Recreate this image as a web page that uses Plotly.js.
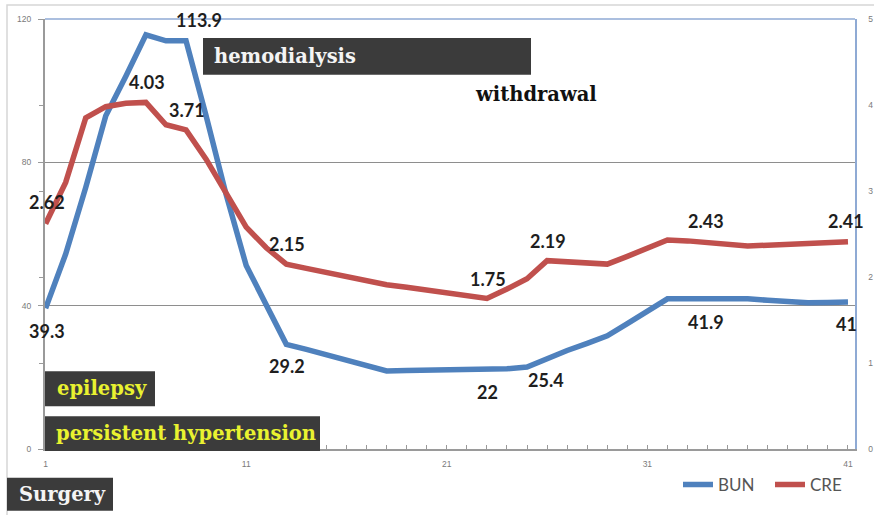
<!DOCTYPE html>
<html>
<head>
<meta charset="utf-8">
<script src="https://cdn.plot.ly/plotly-3.0.1.min.js"></script>
<style>
  html, body { margin: 0; padding: 0; background: #fff; }
  #chart { width: 874px; height: 515px; }
</style>
</head>
<body>
<div id="chart"></div>
<script>
// ---- data ----
const days = [];
for (let d = 1; d <= 41; d++) days.push(d);

const bun = [39.3, 54.4, 73, 93, 104, 115.6, 113.9, 113.9, 93, 71,
             51.2, 40, 29.2, 27.8, 26.3, 24.8, 23.3, 21.8, 21.9, 22.0,
             22.0, 22.0, 22.0, 22.4, 22.9, 25.4, 27.5, 29.5, 31.6, 35,
             38.5, 41.9, 41.9, 41.9, 41.9, 41.9, 41.5, 41.0, 40.8, 40.9, 41.0];

const cre = [2.62, 3.10, 3.85, 3.98, 4.02, 4.03, 3.77, 3.71, 3.37, 2.98,
             2.58, 2.34, 2.15, 2.10, 2.05, 2.00, 1.96, 1.91, 1.88, 1.85,
             1.81, 1.78, 1.75, 1.86, 1.98, 2.19, 2.18, 2.17, 2.15, 2.24,
             2.34, 2.43, 2.42, 2.40, 2.38, 2.36, 2.37, 2.38, 2.40, 2.41, 2.41];

const bunLabels = ["39.3", "113.9", "29.2", "22", "25.4", "41.9", "41"];
const creLabels = ["2.62", "4.03", "3.71", "2.15", "1.75", "2.19", "2.43", "2.41"];
const xTickVals = [1, 11, 21, 31, 41];
const leftTicks = [0, 40, 80, 120];
const rightTicks = [0, 1, 2, 3, 4, 5];
const events = ["hemodialysis", "withdrawal", "epilepsy", "persistent hypertension", "Surgery"];

// ---- layout helpers (pixel -> paper) ----
const L = 45, R = 855, T = 19, B = 451;
const px = v => (v - L) / (R - L);
const py = v => (B - v) / (B - T);

// label pixel centres
const bunLabelPos = [[47, 332], [199, 20], [287, 368], [487, 394], [546, 382], [706, 323], [846, 325]];
const creLabelPos = [[47, 203], [147, 82], [187, 110], [287, 245], [488, 280], [548, 242], [706, 222], [846, 222]];

const labelFont = { family: "Lato, 'Liberation Sans', sans-serif", size: 18, color: "#1e1e1e", weight: 700 };
const annotations = [];
bunLabels.forEach((t, i) => annotations.push({
  xref: "paper", yref: "paper", x: px(bunLabelPos[i][0]), y: py(bunLabelPos[i][1]),
  text: "<b>" + t + "</b>", showarrow: false, xanchor: "center", yanchor: "middle", font: labelFont
}));
creLabels.forEach((t, i) => annotations.push({
  xref: "paper", yref: "paper", x: px(creLabelPos[i][0]), y: py(creLabelPos[i][1]),
  text: "<b>" + t + "</b>", showarrow: false, xanchor: "center", yanchor: "middle", font: labelFont
}));

// event boxes: [x0,y0,x1,y1] pixels, text start x, text colour
const boxes = [
  { box: [203, 38, 531, 75], tx: 212, col: "#f4f4f4", txt: events[0] },
  { box: null, tx: 473, ty: 95, col: "#111111", txt: events[1] },
  { box: [45, 373, 155, 408], tx: 55, col: "#e9f230", txt: events[2] },
  { box: [45, 418, 320, 453], tx: 54, col: "#e9f230", txt: events[3] },
  { box: [7, 480, 113, 513], tx: 17, col: "#f4f4f4", txt: events[4] }
];

const shapes = [
  // outer chart frame
  { type: "rect", xref: "paper", yref: "paper", x0: px(7), y0: py(5), x1: px(900), y1: py(540),
    line: { color: "#d6d6d6", width: 1.5 }, fillcolor: "rgba(0,0,0,0)", layer: "below" },
  // top border line
  { type: "line", xref: "paper", yref: "paper", x0: 0, x1: 1, y0: 1, y1: 1,
    line: { color: "#8faad4", width: 1.5 } }
];
boxes.forEach(b => {
  let cy;
  if (b.box) {
    shapes.push({ type: "rect", xref: "paper", yref: "paper",
      x0: px(b.box[0]), x1: px(b.box[2]), y0: py(b.box[1]), y1: py(b.box[3]),
      fillcolor: "#3b3b3b", line: { width: 0 }, layer: "above" });
    cy = (b.box[1] + b.box[3]) / 2;
  } else {
    cy = b.ty;
  }
  annotations.push({
    xref: "paper", yref: "paper", x: px(b.tx), y: py(cy),
    text: "<b>" + b.txt + "</b>", showarrow: false, xanchor: "left", yanchor: "middle",
    font: { family: "'DejaVu Serif', serif", size: 19.5, color: b.col }
  });
});

const traces = [
  { x: days, y: bun, name: "BUN", type: "scatter", mode: "lines",
    line: { color: "#4f81bd", width: 5.5 }, yaxis: "y" },
  { x: days, y: cre, name: "CRE", type: "scatter", mode: "lines",
    line: { color: "#c0504d", width: 5.5 }, yaxis: "y2" }
];

const tickFont = { family: "'Liberation Sans', Arial, sans-serif", size: 8.5, color: "#7a7a7a" };

const layout = {
  width: 874, height: 515,
  margin: { l: L, r: 874 - R, t: T, b: 515 - B, pad: 0 },
  paper_bgcolor: "#ffffff", plot_bgcolor: "#ffffff",
  showlegend: true,
  legend: {
    orientation: "h", x: px(678), y: py(487), xanchor: "left", yanchor: "middle",
    font: { family: "Lato, 'Liberation Sans', sans-serif", size: 17, color: "#555555" },
    itemwidth: 30, entrywidth: 47, entrywidthmode: "pixels",
    bgcolor: "rgba(0,0,0,0)", traceorder: "normal"
  },
  xaxis: {
    range: [0.97, 41.35], tickmode: "linear", tick0: 1, dtick: 10,
    showgrid: false, zeroline: false,
    showline: true, linecolor: "#9a9a9a", linewidth: 2,
    ticks: "inside", ticklen: 4, tickcolor: "#9a9a9a",
    minor: { dtick: 1, ticks: "inside", ticklen: 4, tickcolor: "#9a9a9a", showgrid: false },
    tickfont: tickFont, ticklabelstandoff: 6
  },
  yaxis: {
    range: [0, 120], tickmode: "array", tickvals: leftTicks,
    showgrid: true, gridcolor: "#8e8e8e", gridwidth: 1.5, zeroline: false,
    showline: true, linecolor: "#9a9a9a", linewidth: 2,
    ticks: "outside", ticklen: 5, tickcolor: "#9a9a9a",
    minor: { tickvals: [24, 48, 72, 96], ticks: "outside", ticklen: 4, tickcolor: "#9a9a9a", showgrid: false },
    tickfont: tickFont, ticklabelstandoff: 5
  },
  yaxis2: {
    range: [0, 5], overlaying: "y", side: "right", tickmode: "array", tickvals: rightTicks,
    showgrid: false, zeroline: false,
    showline: true, linecolor: "#8faad4", linewidth: 1.5,
    ticks: "", tickfont: tickFont, ticklabelstandoff: 10
  },
  shapes: shapes,
  annotations: annotations
};

Plotly.newPlot("chart", traces, layout, { displayModeBar: false, staticPlot: true });
</script>
</body>
</html>
